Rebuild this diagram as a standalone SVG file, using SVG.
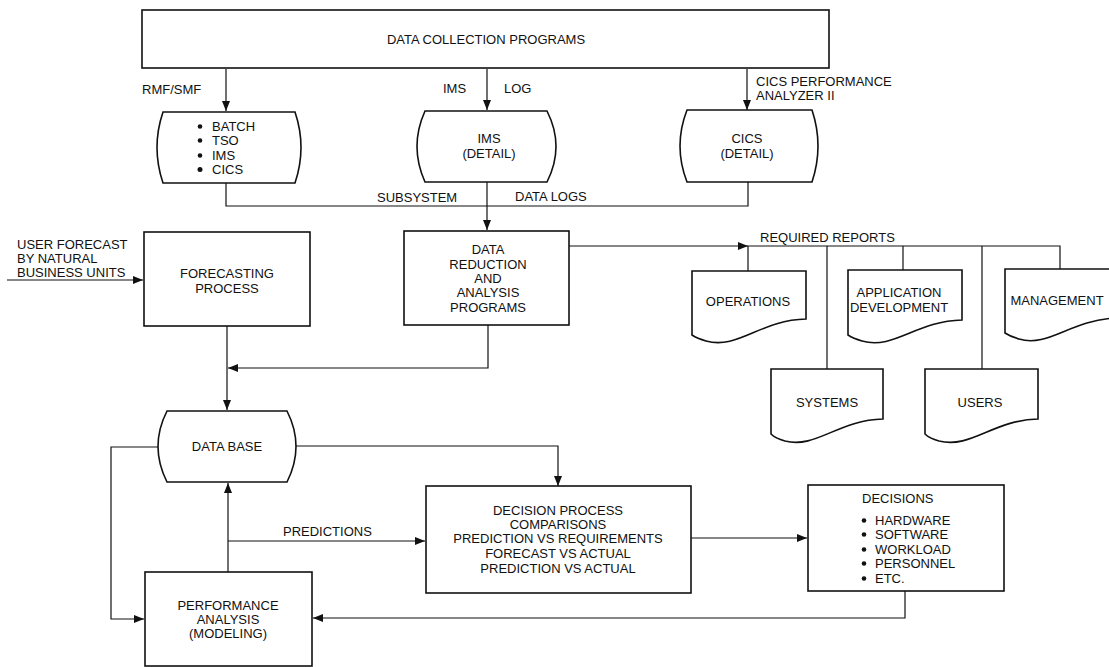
<svg xmlns="http://www.w3.org/2000/svg" width="1109" height="667" viewBox="0 0 1109 667">
  <defs>
    <marker id="arrow" viewBox="0 0 10 8" refX="10" refY="4" markerWidth="10" markerHeight="8" markerUnits="userSpaceOnUse" orient="auto">
      <path d="M0,0 L10,4 L0,8 Z" fill="#111"/>
    </marker>
  </defs>
  <style>
    .box { fill: #fff; stroke: #111; stroke-width: 1.6; }
    .wire { fill: none; stroke: #111; stroke-width: 1.2; }
    .arr { fill: none; stroke: #111; stroke-width: 1.2; marker-end: url(#arrow); }
    text { font-family: "Liberation Sans", Arial, sans-serif; font-size: 13px; fill: #111; }
    .c { text-anchor: middle; }
    .dot { fill: #111; }
  </style>
  <rect width="1109" height="667" fill="#fff"/>

  <!-- connectors -->
  <g id="connectors">
    <line class="arr" x1="226" y1="69" x2="226" y2="111"/>
    <line class="arr" x1="487" y1="69" x2="487" y2="110"/>
    <line class="arr" x1="747" y1="69" x2="747" y2="110"/>
    <polyline class="wire" points="226,183 226,206 748,206 748,182"/>
    <line class="arr" x1="487" y1="182" x2="487" y2="230"/>
    <line class="arr" x1="7" y1="280" x2="143" y2="280"/>
    <line class="arr" x1="569" y1="246" x2="748" y2="246"/>
    <polyline class="wire" points="748,271 748,246 1060,246 1060,269"/>
    <line class="wire" x1="827" y1="246" x2="827" y2="369"/>
    <line class="wire" x1="903" y1="246" x2="903" y2="270"/>
    <line class="wire" x1="982" y1="246" x2="982" y2="369"/>
    <line class="arr" x1="227" y1="326" x2="227" y2="410"/>
    <polyline class="arr" points="488,325 488,368 228,368"/>
    <polyline class="arr" points="158,447 111,447 111,619 144,619"/>
    <polyline class="arr" points="296,446 558,446 558,486"/>
    <line class="arr" x1="228" y1="572" x2="228" y2="483"/>
    <line class="arr" x1="228" y1="541" x2="425" y2="541"/>
    <line class="arr" x1="691" y1="538" x2="807" y2="538"/>
    <polyline class="arr" points="905,591 905,618 313,618"/>
  </g>

  <g id="data-collection">
    <rect class="box" x="142" y="10" width="687" height="58"/>
    <text class="c" x="486" y="44">DATA COLLECTION PROGRAMS</text>
  </g>

  <g id="labels-top">
    <text x="142" y="94">RMF/SMF</text>
    <text x="443" y="93">IMS</text>
    <text x="504" y="93">LOG</text>
    <text x="756" y="86">CICS PERFORMANCE</text>
    <text x="756" y="100">ANALYZER II</text>
    <text x="377" y="202">SUBSYSTEM</text>
    <text x="515" y="201">DATA LOGS</text>
  </g>

  <g id="subsystems">
    <path class="box" d="M163,112 L295,112 Q307,147.5 295,183 L163,183 Q151,147.5 163,112 Z"/>
    <circle class="dot" cx="200" cy="126.5" r="2.3"/>
    <circle class="dot" cx="200" cy="140.5" r="2.3"/>
    <circle class="dot" cx="200" cy="155.5" r="2.3"/>
    <circle class="dot" cx="200" cy="169.5" r="2.5"/>
    <text x="212" y="131">BATCH</text>
    <text x="212" y="145">TSO</text>
    <text x="212" y="160">IMS</text>
    <text x="212" y="174">CICS</text>
  </g>

  <g id="ims-detail">
    <path class="box" d="M425,111 L547,111 Q565,146.5 547,182 L425,182 Q409,146.5 425,111 Z"/>
    <text class="c" x="489" y="143">IMS</text>
    <text class="c" x="489" y="158">(DETAIL)</text>
  </g>

  <g id="cics-detail">
    <path class="box" d="M687,110 L812,110 Q824,146 812,182 L687,182 Q673,146 687,110 Z"/>
    <text class="c" x="747" y="143">CICS</text>
    <text class="c" x="747" y="158">(DETAIL)</text>
  </g>

  <g id="user-forecast">
    <text x="17" y="249">USER FORECAST</text>
    <text x="17" y="263">BY NATURAL</text>
    <text x="17" y="277">BUSINESS UNITS</text>
  </g>

  <g id="forecasting">
    <rect class="box" x="144" y="232" width="166" height="94"/>
    <text class="c" x="227" y="278">FORECASTING</text>
    <text class="c" x="227" y="293">PROCESS</text>
  </g>

  <g id="data-reduction">
    <rect class="box" x="404" y="231" width="165" height="94"/>
    <text class="c" x="488" y="254">DATA</text>
    <text class="c" x="488" y="269">REDUCTION</text>
    <text class="c" x="488" y="283">AND</text>
    <text class="c" x="488" y="297">ANALYSIS</text>
    <text class="c" x="488" y="312">PROGRAMS</text>
  </g>

  <g id="required-reports">
    <text x="760" y="242">REQUIRED REPORTS</text>
  </g>

  <g id="operations">
    <path class="box" d="M692,271 L806,271 L806,319 C760,320 738,350 706,341 C699,339 695,337 692,335 Z"/>
    <text class="c" x="748" y="306">OPERATIONS</text>
  </g>

  <g id="application-development">
    <path class="box" d="M848,270 L962,270 L962,320 C916,321 894,350 862,341 C855,339 851,337 848,335 Z"/>
    <text class="c" x="899" y="297">APPLICATION</text>
    <text class="c" x="899" y="312">DEVELOPMENT</text>
  </g>

  <g id="management">
    <path class="box" d="M1005,269 L1116,269 L1116,318 C1070,320 1048,348 1019,339 C1012,337 1008,335 1005,333 Z"/>
    <text class="c" x="1057" y="305">MANAGEMENT</text>
  </g>

  <g id="systems">
    <path class="box" d="M771,369 L883,369 L883,419 C838,420 816,449 785,441 C778,439 774,437 771,434 Z"/>
    <text class="c" x="827" y="407">SYSTEMS</text>
  </g>

  <g id="users">
    <path class="box" d="M925,369 L1038,369 L1038,419 C993,420 971,449 939,441 C932,439 928,437 925,434 Z"/>
    <text class="c" x="980" y="407">USERS</text>
  </g>

  <g id="data-base">
    <path class="box" d="M167,411 L287,411 Q305,446.5 287,482 L167,482 Q149,446.5 167,411 Z"/>
    <text class="c" x="227" y="451">DATA BASE</text>
  </g>

  <g id="predictions-label">
    <text x="283" y="536">PREDICTIONS</text>
  </g>

  <g id="decision-process">
    <rect class="box" x="426" y="486" width="265" height="107"/>
    <text class="c" x="558" y="515">DECISION PROCESS</text>
    <text class="c" x="558" y="529">COMPARISONS</text>
    <text class="c" x="558" y="543">PREDICTION VS REQUIREMENTS</text>
    <text class="c" x="558" y="558">FORECAST VS ACTUAL</text>
    <text class="c" x="558" y="573">PREDICTION VS ACTUAL</text>
  </g>

  <g id="decisions">
    <rect class="box" x="808" y="485" width="196" height="106"/>
    <text x="862" y="503">DECISIONS</text>
    <circle class="dot" cx="864" cy="520.5" r="2.3"/>
    <circle class="dot" cx="864" cy="534.5" r="2.3"/>
    <circle class="dot" cx="864" cy="549.5" r="2.3"/>
    <circle class="dot" cx="864" cy="563.5" r="2.3"/>
    <circle class="dot" cx="864" cy="578.5" r="2.3"/>
    <text x="875" y="525">HARDWARE</text>
    <text x="875" y="539">SOFTWARE</text>
    <text x="875" y="554">WORKLOAD</text>
    <text x="875" y="568">PERSONNEL</text>
    <text x="875" y="583">ETC.</text>
  </g>

  <g id="performance-analysis">
    <rect class="box" x="145" y="572" width="167" height="94"/>
    <text class="c" x="228" y="610">PERFORMANCE</text>
    <text class="c" x="228" y="624">ANALYSIS</text>
    <text class="c" x="228" y="638">(MODELING)</text>
  </g>
</svg>
